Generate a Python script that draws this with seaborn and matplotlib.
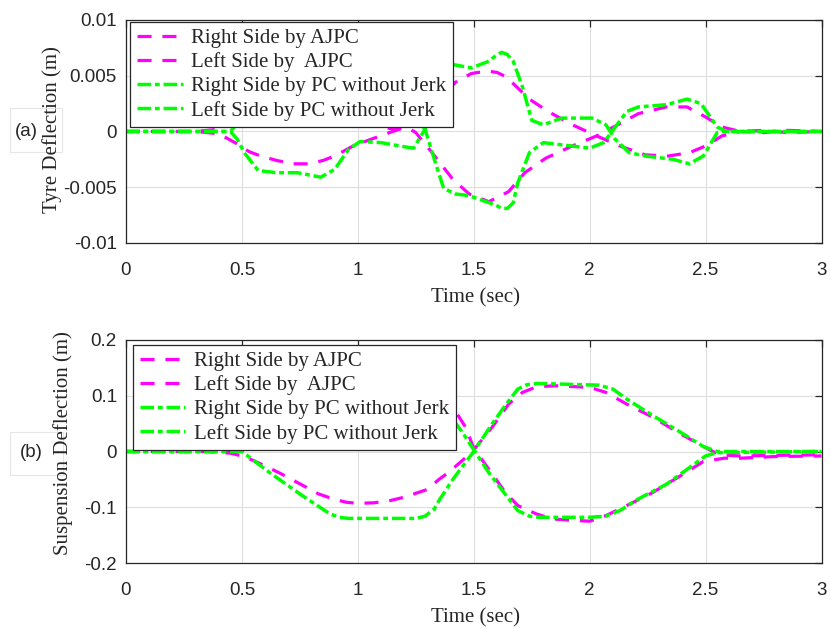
import matplotlib
matplotlib.use("Agg")
import matplotlib.pyplot as plt
from matplotlib.patches import Rectangle
import seaborn as sns

# ---------------- Tyre deflection (m) ----------------
tyre_r_ajpc_t = [0, 0.30, 0.40, 0.47, 0.53, 0.58, 0.65, 0.72, 0.79, 0.85, 0.90, 0.98, 1.07, 1.15, 1.21,
                 1.26, 1.32, 1.38, 1.42, 1.49, 1.52, 1.565, 1.60, 1.64, 1.69, 1.74, 1.82, 1.925, 2.03,
                 2.13, 2.24, 2.34, 2.43, 2.50, 2.57, 2.65, 2.75, 2.85, 3.0]
tyre_r_ajpc = [0, 0, -0.0002, -0.0010, -0.0018, -0.0022, -0.0026, -0.0029, -0.0029, -0.0026, -0.0022,
               -0.0013, -0.0006, 0.0, 0.0004, 0.0012, 0.0025, 0.0035, 0.0044, 0.0052, 0.0053, 0.0054,
               0.0053, 0.0049, 0.0039, 0.0029, 0.0018, 0.0006, -0.0004, -0.0013, -0.0021, -0.0022,
               -0.0019, -0.0013, -0.0004, 0.0, -0.0001, 0.0001, 0.0]

tyre_l_ajpc_t = [0, 0.30, 0.40, 0.47, 0.53, 0.58, 0.65, 0.72, 0.79, 0.85, 0.90, 0.98, 1.07, 1.15, 1.21,
                 1.25, 1.32, 1.41, 1.48, 1.565, 1.65, 1.72, 1.81, 1.925, 2.03, 2.13, 2.21, 2.33, 2.42,
                 2.50, 2.57, 2.65, 2.75, 2.85, 3.0]
tyre_l_ajpc = [0, 0, 0.0002, 0.0010, 0.0018, 0.0022, 0.0026, 0.0029, 0.0029, 0.0026, 0.0022, 0.0013,
               0.0006, 0.0002, 0.0004, -0.0001, -0.0019, -0.0043, -0.0056, -0.0063, -0.0054, -0.0037,
               -0.0024, -0.0013, -0.0004, 0.0007, 0.0016, 0.0022, 0.0022, 0.0013, 0.0004, 0.0,
               0.0001, -0.0001, 0.0]

tyre_r_pc_t = [0, 0.45, 0.48, 0.51, 0.57, 0.65, 0.74, 0.84, 0.90, 0.96, 1.01, 1.10, 1.18, 1.24, 1.29,
               1.33, 1.37, 1.41, 1.49, 1.565, 1.595, 1.62, 1.645, 1.67, 1.71, 1.75, 1.80, 1.88, 2.01,
               2.07, 2.11, 2.17, 2.24, 2.36, 2.43, 2.49, 2.55, 2.59, 3.0]
tyre_r_pc = [0, 0, -0.0007, -0.0019, -0.0035, -0.0037, -0.0037, -0.0041, -0.0034, -0.0016, -0.0009,
             -0.0010, -0.0013, -0.0015, 0.0002, 0.0030, 0.0055, 0.0060, 0.0057, 0.0063, 0.0068,
             0.0071, 0.0069, 0.0063, 0.0040, 0.0010, 0.0006, 0.0012, 0.0012, 0.0006, -0.0007,
             -0.0019, -0.0022, -0.0025, -0.0029, -0.0022, -0.0001, 0.0, 0.0]

tyre_l_pc_t = [0, 0.45, 0.48, 0.51, 0.57, 0.65, 0.74, 0.84, 0.90, 0.96, 1.01, 1.10, 1.18, 1.24, 1.29,
               1.33, 1.37, 1.42, 1.46, 1.50, 1.54, 1.595, 1.62, 1.645, 1.67, 1.69, 1.74, 1.80, 1.88,
               2.00, 2.06, 2.10, 2.16, 2.21, 2.33, 2.42, 2.48, 2.55, 2.59, 3.0]
tyre_l_pc = [0, 0, 0.0007, 0.0019, 0.0035, 0.0037, 0.0037, 0.0041, 0.0034, 0.0016, 0.0009, 0.0010,
             0.0013, 0.0015, 0.0002, -0.0025, -0.0051, -0.0056, -0.0057, -0.0059, -0.0062, -0.0066,
             -0.0069, -0.0069, -0.0064, -0.0046, -0.0019, -0.0010, -0.0012, -0.0015, -0.0010, 0.0001,
             0.0018, 0.0022, 0.0024, 0.0029, 0.0025, 0.0004, 0.0, 0.0]

# ---------------- Suspension deflection (m) ----------------
susp_r_ajpc_t = [0, 0.35, 0.45, 0.51, 0.58, 0.66, 0.75, 0.83, 0.90, 0.95, 1.00, 1.07, 1.14, 1.20, 1.30,
                 1.35, 1.39, 1.44, 1.47, 1.50, 1.58, 1.65, 1.71, 1.77, 1.85, 2.00, 2.07, 2.16, 2.27,
                 2.39, 2.49, 2.56, 2.65, 2.80, 3.0]
susp_r_ajpc = [0, 0, -0.003, -0.009, -0.022, -0.038, -0.058, -0.076, -0.086, -0.091, -0.093, -0.092,
               -0.088, -0.082, -0.068, -0.050, -0.038, -0.020, -0.009, 0.003, 0.044, 0.085, 0.106,
               0.116, 0.118, 0.115, 0.106, 0.085, 0.062, 0.032, 0.009, -0.006, -0.008, -0.007, -0.006]

susp_l_ajpc_t = [0, 0.47, 0.51, 0.58, 0.66, 0.75, 0.83, 0.90, 0.95, 1.00, 1.07, 1.14, 1.20, 1.30, 1.36,
                 1.406, 1.464, 1.50, 1.565, 1.637, 1.69, 1.77, 1.84, 1.95, 2.00, 2.07, 2.16, 2.27,
                 2.39, 2.49, 2.58, 2.65, 2.80, 3.0]
susp_l_ajpc = [0, 0, 0.009, 0.022, 0.038, 0.058, 0.076, 0.086, 0.091, 0.093, 0.094, 0.094, 0.094,
               0.092, 0.088, 0.082, 0.044, 0.006, -0.032, -0.074, -0.097, -0.112, -0.121, -0.124,
               -0.125, -0.115, -0.097, -0.074, -0.044, -0.018, -0.012, -0.012, -0.009, -0.008]

susp_r_pc_t = [0, 0.50, 0.62, 0.76, 0.88, 0.92, 0.96, 1.25, 1.29, 1.33, 1.35, 1.41, 1.44, 1.50, 1.58,
               1.64, 1.69, 1.73, 1.78, 2.04, 2.10, 2.16, 2.27, 2.39, 2.49, 2.55, 3.0]
susp_r_pc = [0, 0, -0.038, -0.079, -0.112, -0.118, -0.120, -0.120, -0.116, -0.103, -0.088, -0.050,
             -0.033, 0.0, 0.050, 0.085, 0.112, 0.120, 0.122, 0.119, 0.112, 0.094, 0.065, 0.035, 0.009,
             0.0, 0.0]

susp_l_pc_t = [0, 0.50, 0.62, 0.76, 0.88, 0.92, 0.96, 1.25, 1.29, 1.33, 1.35, 1.39, 1.45, 1.50, 1.565,
               1.64, 1.69, 1.74, 1.78, 2.00, 2.07, 2.13, 2.21, 2.33, 2.44, 2.50, 2.55, 3.0]
susp_l_pc = [0, 0, 0.038, 0.079, 0.112, 0.118, 0.120, 0.120, 0.116, 0.103, 0.088, 0.068, 0.035,
             0.003, -0.038, -0.079, -0.106, -0.116, -0.118, -0.118, -0.116, -0.106, -0.085, -0.059,
             -0.026, -0.008, -0.002, 0.0]

legend_labels = ["Right Side by AJPC", "Left Side by  AJPC",
                 "Right Side by PC without Jerk", "Left Side by PC without Jerk"]

x_ticks = [0, 0.5, 1, 1.5, 2, 2.5, 3]
x_ticklabels = ["0", "0.5", "1", "1.5", "2", "2.5", "3"]
tyre_ticks = [-0.01, -0.005, 0, 0.005, 0.01]
tyre_ticklabels = ["-0.01", "-0.005", "0", "0.005", "0.01"]
susp_ticks = [-0.2, -0.1, 0, 0.1, 0.2]
susp_ticklabels = ["-0.2", "-0.1", "0", "0.1", "0.2"]

# ---------------- styling ----------------
sns.set_theme(style="white")
plt.rcParams.update({
    "font.family": ["Liberation Sans", "DejaVu Sans"],
    "axes.edgecolor": "#262626",
    "axes.linewidth": 0.9,
})

INK = "#262626"
SERIF = ["Liberation Serif", "DejaVu Serif"]
AJPC_STYLE = dict(color="#ff00ff", linewidth=2.3, linestyle=(0, (4.4, 3.4)))
PC_STYLE = dict(color="#00ff00", linewidth=2.5, linestyle=(0, (3.9, 1.1, 1.4, 1.1)))

fig = plt.figure(figsize=(8.3, 6.28), dpi=100)
ax_top = fig.add_axes([0.1518, 0.6131, 0.8380, 0.3551])
ax_bot = fig.add_axes([0.1518, 0.1035, 0.8380, 0.3551])


def draw_panel(ax, series, yticks, yticklabels, ylabel, ylabel_xy, legend_xy):
    for (t, v, style), label in zip(series, legend_labels):
        sns.lineplot(x=t, y=v, ax=ax, label=label, sort=False, estimator=None, **style)

    ax.set_xlim(0, 3)
    ax.set_ylim(yticks[0], yticks[-1])
    ax.set_xticks(x_ticks, x_ticklabels)
    ax.set_yticks(yticks, yticklabels)
    ax.grid(True, color="#dedede", linewidth=0.8)
    ax.set_axisbelow(True)
    ax.tick_params(direction="in", length=5, width=0.9, top=True, right=True,
                   labelsize=13.5, labelcolor=INK, color=INK)
    ax.tick_params(axis="x", pad=13.5)
    ax.tick_params(axis="y", pad=6.5)
    for side in ax.spines.values():
        side.set_visible(True)
        side.set_color(INK)

    ax.set_xlabel("Time (sec)", family=SERIF, fontsize=15, color=INK, va="center")
    ax.xaxis.set_label_coords(0.502, -0.245)
    ax.set_ylabel(ylabel, family=SERIF, fontsize=15, color=INK, va="center")
    ax.yaxis.set_label_coords(*ylabel_xy)

    leg = ax.legend(loc="upper left", bbox_to_anchor=legend_xy, borderaxespad=0,
                    prop={"family": SERIF, "size": 15}, frameon=True, fancybox=False,
                    framealpha=1, edgecolor="#262626", handlelength=2.2,
                    handletextpad=0.4, borderpad=0.32, labelspacing=0.21)
    leg.get_frame().set_linewidth(0.9)
    for txt in leg.get_texts():
        txt.set_color(INK)


draw_panel(ax_top,
           [(tyre_r_ajpc_t, tyre_r_ajpc, AJPC_STYLE), (tyre_l_ajpc_t, tyre_l_ajpc, AJPC_STYLE),
            (tyre_r_pc_t, tyre_r_pc, PC_STYLE), (tyre_l_pc_t, tyre_l_pc, PC_STYLE)],
           tyre_ticks, tyre_ticklabels, "Tyre Deflection (m)", (-0.107, 0.507), (0.006, 0.992))
draw_panel(ax_bot,
           [(susp_r_ajpc_t, susp_r_ajpc, AJPC_STYLE), (susp_l_ajpc_t, susp_l_ajpc, AJPC_STYLE),
            (susp_r_pc_t, susp_r_pc, PC_STYLE), (susp_l_pc_t, susp_l_pc, PC_STYLE)],
           susp_ticks, susp_ticklabels, "Suspension Deflection (m)", (-0.091, 0.538), (0.010, 0.978))

# panel tags in faint boxes
for (x0, y0, w, h), tag, (tx, ty) in [((0.012, 0.758, 0.063, 0.070), "(a)", (0.0313, 0.790)),
                                      ((0.012, 0.2436, 0.064, 0.0685), "(b)", (0.0373, 0.2787))]:
    fig.patches.append(Rectangle((x0, y0), w, h, transform=fig.transFigure, fill=False,
                                 edgecolor="#e6e6e6", linewidth=0.8, zorder=-1))
    fig.text(tx, ty, tag, ha="center", va="center", fontsize=13.5, color=INK)

fig.savefig("out.png", dpi=100, facecolor="white")
